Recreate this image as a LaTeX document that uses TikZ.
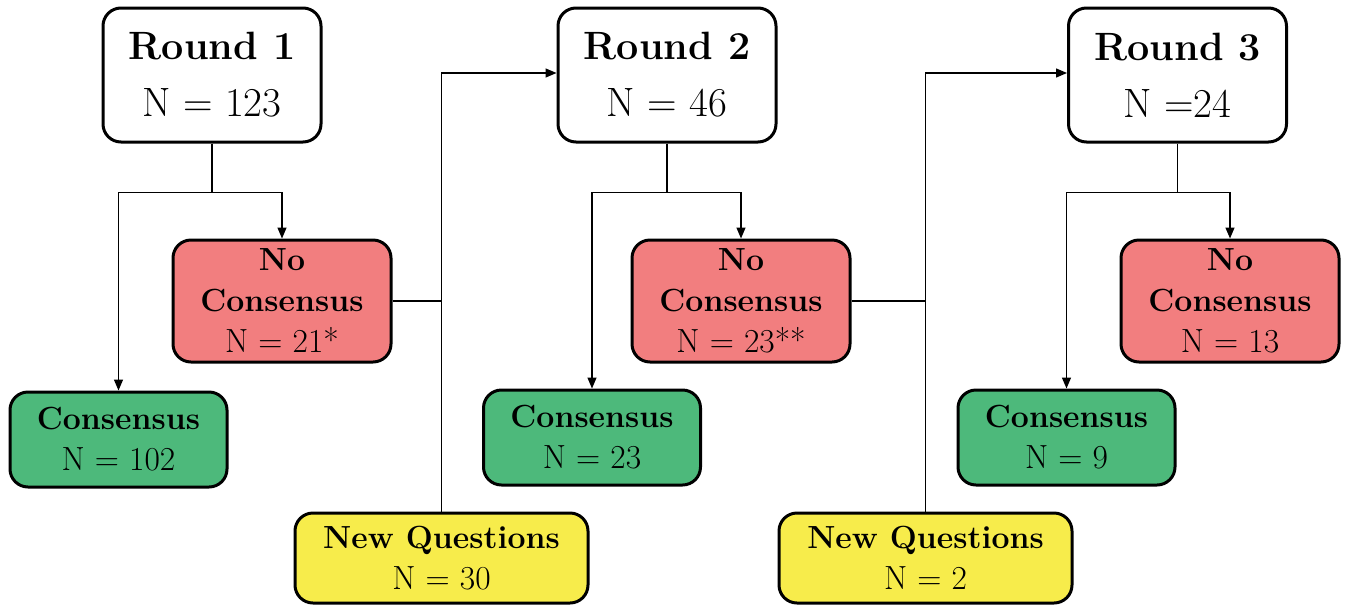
\documentclass[tikz,border=0pt]{standalone}
\usetikzlibrary{arrows.meta}
\definecolor{ncred}{RGB}{242,126,127}
\definecolor{cgreen}{RGB}{77,185,123}
\definecolor{nqyellow}{RGB}{247,236,75}
\newcommand{\bigN}[1]{{\fontsize{41}{57}\selectfont #1}}
\newcommand{\smallN}[1]{{\fontsize{33.5}{41}\selectfont #1}}
\tikzset{
  box/.style={draw=black, line width=3pt, rounded corners=18pt, align=center, inner sep=0pt},
  roundbox/.style={box, fill=white, minimum width=218pt, minimum height=134pt, font=\fontsize{39.5}{57}\selectfont},
  smallbox/.style={box, font=\fontsize{32}{41}\selectfont},
  ncbox/.style={smallbox, fill=ncred, minimum width=218pt, minimum height=122pt},
  cbox/.style={smallbox, fill=cgreen, minimum width=217pt, minimum height=95pt},
  nqbox/.style={smallbox, fill=nqyellow, minimum width=293pt, minimum height=90pt},
  conn/.style={line width=1.4pt, draw=black},
  arr/.style={conn, -{Triangle[length=11pt,width=9pt]}}
}
\begin{document}
\begin{tikzpicture}[x=1pt,y=-1pt]
\useasboundingbox (0,0) rectangle (1347,606);
% rounds
\node[roundbox] (r1) at (212,75) {\textbf{Round 1}\\\bigN{N = 123}};
\node[roundbox] (r2) at (667,75) {\textbf{Round 2}\\\bigN{N = 46}};
\node[roundbox] (r3) at (1177.5,75) {\textbf{Round 3}\\\bigN{N =24}};
% no consensus
\node[ncbox] (nc1) at (282,301) {\textbf{No}\\\textbf{Consensus}\\\smallN{N = 21*}};
\node[ncbox] (nc2) at (741,301) {\textbf{No}\\\textbf{Consensus}\\\smallN{N = 23**}};
\node[ncbox] (nc3) at (1230,301) {\textbf{No}\\\textbf{Consensus}\\\smallN{N = 13}};
% consensus
\node[cbox] (c1) at (118.5,439.5) {\textbf{Consensus}\\\smallN{N = 102}};
\node[cbox] (c2) at (592,437.5) {\textbf{Consensus}\\\smallN{N = 23}};
\node[cbox] (c3) at (1066.5,437.5) {\textbf{Consensus}\\\smallN{N = 9}};
% new questions
\node[nqbox] (nq1) at (441.5,558) {\textbf{New Questions}\\\smallN{N = 30}};
\node[nqbox] (nq2) at (925.5,558) {\textbf{New Questions}\\\smallN{N = 2}};
% splits
\draw[arr] (r1.south) -- ++(0,49) -| (c1.north);
\draw[arr] (r1.south) -- ++(0,49) -| (nc1.north);
\draw[arr] (r2.south) -- ++(0,49) -| (c2.north);
\draw[arr] (r2.south) -- ++(0,49) -| (nc2.north);
\draw[arr] (r3.south) -- ++(0,49) -| (c3.north);
\draw[arr] (r3.south) -- ++(0,49) -| (nc3.north);
% feed to next round
\draw[conn] (nc1.east) -- (nc1.east -| nq1.north);
\draw[arr] (nq1.north) |- ([yshift=2]r2.west);
\draw[conn] (nc2.east) -- (nc2.east -| nq2.north);
\draw[arr] (nq2.north) |- ([yshift=2]r3.west);
\end{tikzpicture}
\end{document}
